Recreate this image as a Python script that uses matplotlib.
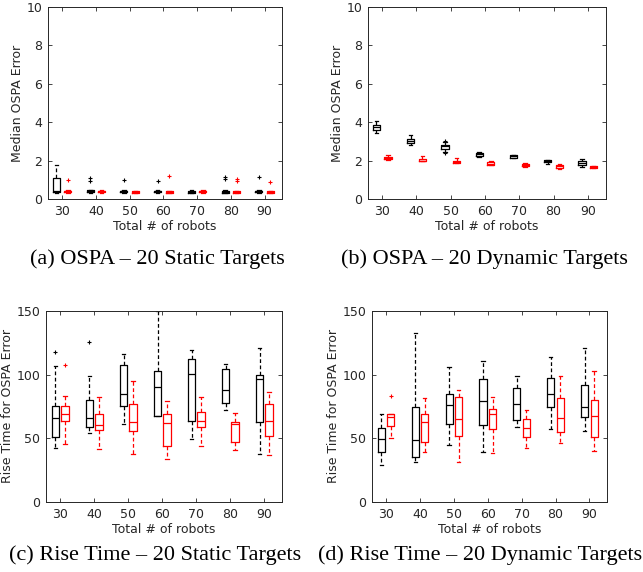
import matplotlib.pyplot as plt

plt.rcParams['font.family'] = 'DejaVu Sans'

robots = [30, 40, 50, 60, 70, 80, 90]

# (a) OSPA - static targets: [q1, med, q3, whislo, whishi]
a_black = [[0.35, 0.40, 1.09, 0.33, 1.79], [0.36, 0.42, 0.46, 0.34, 0.48],
           [0.35, 0.40, 0.44, 0.33, 0.46], [0.35, 0.40, 0.44, 0.33, 0.46],
           [0.33, 0.38, 0.43, 0.31, 0.45], [0.33, 0.38, 0.43, 0.31, 0.45],
           [0.35, 0.40, 0.44, 0.33, 0.46]]
a_black_out = [[], [1.1, 0.95], [0.99], [0.92], [], [1.17, 1.03], [1.15]]
a_red = [[0.36, 0.40, 0.43, 0.34, 0.45], [0.35, 0.40, 0.43, 0.33, 0.45],
         [0.33, 0.38, 0.42, 0.31, 0.44], [0.33, 0.38, 0.42, 0.31, 0.44],
         [0.35, 0.40, 0.43, 0.33, 0.45], [0.33, 0.38, 0.42, 0.31, 0.44],
         [0.33, 0.38, 0.42, 0.31, 0.44]]
a_red_out = [[0.97], [], [], [1.2], [], [1.06, 0.92], [0.87]]

# (b) OSPA - dynamic targets
b_black = [[3.58, 3.73, 3.87, 3.44, 4.05], [2.92, 3.04, 3.14, 2.80, 3.35],
           [2.62, 2.74, 2.83, 2.45, 2.95], [2.25, 2.33, 2.40, 2.20, 2.44],
           [2.15, 2.22, 2.28, 2.14, 2.29], [1.92, 1.98, 2.01, 1.80, 2.04],
           [1.76, 1.87, 1.98, 1.65, 2.08]]
b_black_out = [[], [], [3.0, 2.38], [], [], [], []]
b_red = [[2.06, 2.14, 2.20, 2.02, 2.28], [1.97, 2.00, 2.10, 1.96, 2.22],
         [1.90, 1.95, 1.98, 1.89, 2.12], [1.79, 1.85, 1.92, 1.76, 2.00],
         [1.72, 1.78, 1.83, 1.69, 1.88], [1.62, 1.70, 1.79, 1.58, 1.85],
         [1.62, 1.66, 1.70, 1.60, 1.71]]
b_red_out = [[], [], [], [], [], [], []]

# (c) Rise time - static targets
c_black = [[50.7, 66.1, 75.0, 42.6, 106.6], [58.5, 65.8, 79.7, 53.8, 98.8],
           [75.5, 84.4, 107.4, 60.9, 115.8], [67.4, 90.4, 102.7, 67.4, 150.0],
           [63.8, 100.1, 112.6, 49.6, 119.7], [77.6, 88.3, 104.8, 72.1, 108.7],
           [62.5, 96.2, 99.6, 37.6, 120.7]]
c_black_out = [[117.6], [125.7], [], [], [], [], []]
c_red = [[63.5, 68.7, 75.5, 45.5, 83.6], [56.4, 60.4, 68.7, 41.3, 82.6],
         [55.7, 62.7, 77.3, 37.6, 94.9], [43.6, 61.7, 68.7, 33.4, 78.9],
         [58.5, 63.5, 70.6, 43.9, 82.8], [47.3, 60.9, 62.5, 40.5, 69.5],
         [51.7, 63.2, 77.3, 36.6, 86.5]]
c_red_out = [[107.4], [], [], [], [], [], []]

# (d) Rise time - dynamic targets
d_black = [[39.5, 49.1, 57.7, 29.0, 69.0], [35.5, 48.3, 74.7, 31.6, 132.7],
           [61.4, 76.3, 84.4, 44.4, 105.6], [60.4, 79.2, 96.7, 39.2, 110.8],
           [64.5, 77.3, 89.6, 58.8, 98.8], [74.7, 84.4, 97.5, 57.5, 113.7],
           [66.4, 74.7, 91.5, 55.9, 120.7]]
d_black_out = [[], [], [], [], [], [], []]
d_red = [[59.3, 66.9, 68.7, 49.9, 68.7], [47.3, 62.5, 68.7, 39.5, 81.8],
         [51.5, 65.1, 82.6, 31.6, 87.8], [57.5, 69.0, 72.9, 38.2, 82.8],
         [50.7, 58.0, 64.8, 42.6, 72.6], [54.6, 65.6, 81.5, 46.3, 98.8],
         [50.7, 67.4, 79.7, 40.2, 102.7]]
d_red_out = [[83.1], [], [], [], [], [], []]

captions = ['(a) OSPA \u2013 20 Static Targets', '(b) OSPA \u2013 20 Dynamic Targets',
            '(c) Rise Time \u2013 20 Static Targets', '(d) Rise Time \u2013 20 Dynamic Targets']


def to_stats(rows, outs):
    return [dict(q1=r[0], med=r[1], q3=r[2], whislo=r[3], whishi=r[4], fliers=o)
            for r, o in zip(rows, outs)]


def draw_boxes(ax, rows, outs, color, offset):
    pos = [x + offset for x in robots]
    ax.bxp(to_stats(rows, outs), positions=pos, widths=2.1, capwidths=1.0,
           manage_ticks=False, showfliers=True,
           boxprops=dict(color=color, lw=0.9),
           medianprops=dict(color=color, lw=0.9),
           whiskerprops=dict(color=color, lw=0.9, ls=(0, (3, 2))),
           capprops=dict(color=color, lw=0.9),
           flierprops=dict(marker='+', markeredgecolor=color, markersize=3.5, mew=0.8))


fig = plt.figure(figsize=(6.43, 5.72), dpi=100)
rects = [[0.0747, 0.652, 0.364, 0.336], [0.572, 0.652, 0.370, 0.336],
         [0.0715, 0.1224, 0.367, 0.334], [0.5785, 0.1224, 0.3655, 0.334]]
panels = [(a_black, a_black_out, a_red, a_red_out),
          (b_black, b_black_out, b_red, b_red_out),
          (c_black, c_black_out, c_red, c_red_out),
          (d_black, d_black_out, d_red, d_red_out)]
gray = '#262626'

for i, (rect, (kb, kbo, rd, rdo)) in enumerate(zip(rects, panels)):
    ax = fig.add_axes(rect)
    off = 1.7 if i < 2 else 1.4
    draw_boxes(ax, kb, kbo, 'black', -off)
    draw_boxes(ax, rd, rdo, 'red', off)
    ax.set_xlim(25.8, 95.2)
    ax.set_xticks(robots)
    if i < 2:
        ax.set_ylim(0, 10)
        ax.set_yticks([0, 2, 4, 6, 8, 10])
        ax.set_ylabel('Median OSPA Error', fontsize=9, color=gray, labelpad=2)
    else:
        ax.set_ylim(0, 150)
        ax.set_yticks([0, 50, 100, 150])
        ax.set_ylabel('Rise Time for OSPA Error', fontsize=9, color=gray, labelpad=2)
    ax.set_xlabel('Total # of robots', fontsize=9, color=gray, labelpad=1.5)
    ax.tick_params(direction='in', top=True, right=True, labelsize=9,
                   colors=gray, length=3, width=0.6, pad=4)
    for s in ax.spines.values():
        s.set_color(gray)
        s.set_linewidth(0.7)

# sub-figure captions
cap_pos = [(0.244, 0.547), (0.753, 0.547), (0.241, 0.030), (0.747, 0.030)]
for (x, y), txt in zip(cap_pos, captions):
    fig.text(x, y, txt, ha='center', va='center', fontsize=16,
             family='Liberation Serif')

fig.savefig('out.png', dpi=100)
